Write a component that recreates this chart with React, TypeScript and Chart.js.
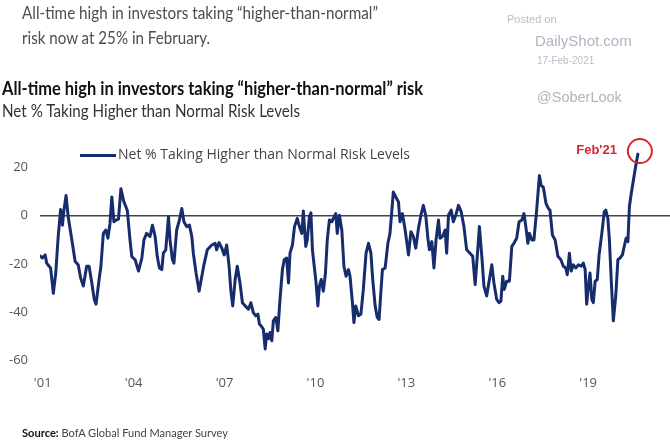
import React, { useEffect, useLayoutEffect, useRef } from "react";
import { Chart, registerables } from "chart.js";
Chart.register(...registerables);

// ---- Data (decimal-year positions of the survey readings, net %) ----
const dates: number[] = [
  2000.91, 2000.99, 2001.08, 2001.13, 2001.21, 2001.26, 2001.35, 2001.43, 2001.51, 2001.59,
  2001.65, 2001.70, 2001.77, 2001.84, 2001.96, 2002.07, 2002.17, 2002.25, 2002.34, 2002.45,
  2002.53, 2002.62, 2002.70, 2002.76, 2002.86, 2002.92, 2003.00, 2003.08, 2003.15, 2003.22,
  2003.28, 2003.35, 2003.42, 2003.50, 2003.58, 2003.67, 2003.79, 2003.88, 2003.94, 2004.05,
  2004.16, 2004.27, 2004.34, 2004.43, 2004.54, 2004.62, 2004.71, 2004.78, 2004.85, 2004.93,
  2004.98, 2005.06, 2005.15, 2005.20, 2005.28, 2005.33, 2005.42, 2005.51, 2005.59, 2005.66,
  2005.75, 2005.84, 2005.92, 2005.97, 2006.06, 2006.16, 2006.25, 2006.32, 2006.43, 2006.58,
  2006.69, 2006.74, 2006.82, 2006.91, 2006.99, 2007.07, 2007.15, 2007.21, 2007.27, 2007.35,
  2007.42, 2007.51, 2007.59, 2007.68, 2007.79, 2007.87, 2007.95, 2008.03, 2008.10, 2008.15,
  2008.20, 2008.28, 2008.34, 2008.39, 2008.45, 2008.50, 2008.56, 2008.61, 2008.69, 2008.76,
  2008.83, 2008.91, 2008.97, 2009.05, 2009.11, 2009.16, 2009.24, 2009.31, 2009.40, 2009.47,
  2009.55, 2009.60, 2009.68, 2009.73, 2009.80, 2009.85, 2009.90, 2009.96, 2010.02, 2010.08,
  2010.13, 2010.19, 2010.26, 2010.33, 2010.39, 2010.46, 2010.54, 2010.59, 2010.67, 2010.72,
  2010.79, 2010.87, 2010.94, 2011.01, 2011.09, 2011.14, 2011.22, 2011.27, 2011.33, 2011.42,
  2011.50, 2011.58, 2011.67, 2011.75, 2011.83, 2011.89, 2011.97, 2012.04, 2012.10, 2012.15,
  2012.21, 2012.30, 2012.39, 2012.46, 2012.57, 2012.65, 2012.74, 2012.79, 2012.87, 2012.96,
  2013.07, 2013.15, 2013.23, 2013.31, 2013.40, 2013.48, 2013.56, 2013.64, 2013.71, 2013.76,
  2013.84, 2013.91, 2013.98, 2014.06, 2014.11, 2014.19, 2014.28, 2014.33, 2014.39, 2014.48,
  2014.55, 2014.63, 2014.72, 2014.81, 2014.90, 2014.99, 2015.10, 2015.19, 2015.27, 2015.34,
  2015.41, 2015.49, 2015.56, 2015.65, 2015.74, 2015.82, 2015.89, 2015.98, 2016.06, 2016.12,
  2016.18, 2016.23, 2016.31, 2016.40, 2016.48, 2016.55, 2016.64, 2016.72, 2016.81, 2016.88,
  2016.95, 2017.01, 2017.06, 2017.14, 2017.21, 2017.30, 2017.39, 2017.45, 2017.52, 2017.61,
  2017.69, 2017.74, 2017.82, 2017.91, 2018.00, 2018.10, 2018.18, 2018.26, 2018.31, 2018.38,
  2018.44, 2018.51, 2018.59, 2018.68, 2018.77, 2018.84, 2018.90, 2018.95, 2019.01, 2019.06,
  2019.12, 2019.17, 2019.23, 2019.30, 2019.36, 2019.45, 2019.53, 2019.58, 2019.65, 2019.70,
  2019.76, 2019.83, 2019.91, 2019.98, 2020.05, 2020.13, 2020.20, 2020.25, 2020.31, 2020.36,
  2020.42, 2020.50, 2020.57, 2020.64,
];

const netRiskValues: number[] = [
  -16.7, -17.6, -16.3, -19.7, -21, -21.7, -32.2, -23.8, -8.7, 2.5,
  -4, 2.2, 8.3, -0.5, -10, -19, -20.4, -25.8, -29.2, -21,
  -21, -27.9, -34.7, -36.7, -26.5, -21, -7.4, -6, -9.4, -3.3,
  7.7, -2.6, -1.9, -1.5, 11.1, 6, 2.2, -10.1, -17, -18.3,
  -23, -17.6, -10.1, -7.4, -8.7, -4, -8.7, -17, -21.7, -22.4,
  -15.6, -14.2, -0.5, -10.1, -18.3, -19.7, -6, -1.9, 2.9, -2.6,
  -4.6, -4, -8.7, -15.6, -23.8, -31.3, -25.1, -20.4, -14.2, -12.2,
  -11.5, -14.2, -11.2, -13.5, -16.3, -12.2, -21, -31.3, -37.4, -26.5,
  -21, -27.9, -36.1, -37.4, -38.8, -36.1, -40.2, -41.5, -40.8, -44.9,
  -45.6, -47, -55.2, -49, -51, -48.4, -51.8, -43.6, -42.2, -47.7,
  -34.7, -22.4, -18.3, -17.6, -27.9, -15.6, -12.2, -4.5, -1.2, -4.6,
  -7.4, 1.9, -12.8, -10.1, -0.5, 1.1, -14.2, -21, -27.9, -37.4,
  -29.2, -26.5, -31.3, -23.8, -10.1, -1.9, -2.6, -1.2, 0.8, -7.4,
  0.1, -6, -21, -25.1, -22.4, -25.1, -36.1, -44.3, -37.4, -41.5,
  -40.8, -30.6, -15.6, -11.5, -15.6, -26.5, -37.4, -42.2, -43, -33.3,
  -22.4, -21.7, -11.5, -7.4, 9.7, 7.7, 5.6, -2.6, 0.8, -6,
  -16.3, -6.7, -8.7, -13.5, -5.3, 0.1, 4.2, 0, -9.4, -14.2,
  -10.8, -21.7, -10.1, -1.9, -9.4, -8.7, -6, -15.6, 0.1, 2.2,
  -2.6, 0.1, 4.2, 1.5, -4.6, -14.2, -15.6, -16.9, -28.6, -16.9,
  -4.6, -16.9, -29.2, -33.3, -26.5, -20.4, -27.9, -34.7, -36.1, -35.4,
  -25.1, -30.6, -27.2, -27.2, -12.8, -11.5, -9.4, -2.6, -1.9, 0.8,
  -5.3, -11.5, -7.4, -10.1, -10.1, 2.2, 16.5, 12.4, 11.7, 4.9,
  2.9, 2.2, -8.1, -10.1, -16.9, -18.3, -21, -21.7, -24.5, -15.6,
  -23, -20.4, -21.7, -20.4, -21, -19.7, -22.4, -36.7, -29.2, -23.8,
  -34.7, -36.1, -27.2, -26.5, -16.3, -7.4, 1.5, 2.2, -1.2, -10.1,
  -26.5, -43.6, -33.3, -18.3, -17.6, -16.3, -12.2, -9.4, -10.8, 3.6,
  9, 15.2, 20.6, 25.4,
];

const xTickYears: number[] = [2001, 2004, 2007, 2010, 2013, 2016, 2019];
const yTickValues: number[] = [-60, -40, -20, 0, 20];
const seriesLabel = "Net % Taking Higher than Normal Risk Levels";
const annotationLabel = "Feb'21";

const headline1 = "All-time high in investors taking \u201chigher-than-normal\u201d";
const headline2 = "risk now at 25% in February.";
const chartTitle = "All-time high in investors taking \u201chigher-than-normal\u201d risk";
const chartSubtitle = "Net % Taking Higher than Normal Risk Levels";
const sourceText = "BofA Global Fund Manager Survey";

const NAVY = "#162c6d";
const RED = "#d9252b";
const COND = 'Lato, "Noto Sans", sans-serif';
const SANS = '"Open Sans", "Noto Sans", sans-serif';
const WM = '"Liberation Sans", Arial, sans-serif';

const annotationPlugin = {
  id: "febAnnotation",
  afterDatasetsDraw(chart: any) {
    const meta = chart.getDatasetMeta(0);
    const pts = meta.data;
    if (!pts || !pts.length) return;
    const last = pts[pts.length - 1];
    const ctx = chart.ctx;
    ctx.save();
    ctx.strokeStyle = RED;
    ctx.lineWidth = 2;
    ctx.beginPath();
    ctx.arc(last.x + 2, last.y - 3, 12, 0, Math.PI * 2);
    ctx.stroke();
    ctx.fillStyle = RED;
    ctx.font = 'bold 13px "Liberation Sans", Arial, sans-serif';
    ctx.textAlign = "right";
    ctx.textBaseline = "middle";
    ctx.fillText(annotationLabel, last.x - 21, last.y - 4);
    ctx.restore();
  },
};

function LineChart() {
  const ref = useRef<HTMLCanvasElement | null>(null);
  useEffect(() => {
    if (!ref.current) return;
    const chart = new Chart(ref.current, {
      type: "line",
      data: {
        datasets: [
          {
            label: seriesLabel,
            data: dates.map((d, i) => ({ x: d, y: netRiskValues[i] })),
            borderColor: NAVY,
            backgroundColor: NAVY,
            borderWidth: 3,
            pointRadius: 0,
            tension: 0,
            borderJoinStyle: "round",
            borderCapStyle: "round",
          },
        ],
      },
      options: {
        animation: false,
        responsive: false,
        maintainAspectRatio: false,
        layout: { padding: { top: 143, left: 0, right: 0, bottom: 0 } },
        plugins: {
          legend: { display: false },
          title: { display: false },
          tooltip: { enabled: false },
        },
        scales: {
          x: {
            type: "linear",
            min: 2000.91,
            max: 2021.7,
            grid: { display: false, drawTicks: false },
            border: { display: false },
            afterBuildTicks: (scale: any) => {
              scale.ticks = xTickYears.map((v) => ({ value: v }));
            },
            afterFit: (scale: any) => {
              scale.height = 86.5;
            },
            ticks: {
              padding: 15,
              color: "#555",
              font: { family: SANS, size: 13 },
              maxRotation: 0,
              autoSkip: false,
              callback: (v: any) => "'" + String(v).slice(2),
            },
          },
          y: {
            min: -60,
            max: 30,
            afterBuildTicks: (scale: any) => {
              scale.ticks = yTickValues.map((v) => ({ value: v }));
            },
            afterFit: (scale: any) => {
              scale.width = 40;
            },
            grid: {
              drawTicks: false,
              color: (c: any) => (c.tick && c.tick.value === 0 ? "#444" : "rgba(0,0,0,0)"),
              lineWidth: 1.5,
            },
            border: { display: false },
            ticks: {
              padding: 12,
              color: "#555",
              font: { family: SANS, size: 13 },
            },
          },
        },
      },
      plugins: [annotationPlugin],
    } as any);
    return () => chart.destroy();
  }, []);
  return (
    <canvas
      ref={ref}
      width={670}
      height={447}
      style={{ position: "absolute", left: 0, top: 0, width: 670, height: 447 }}
    />
  );
}

// Text squeezed horizontally to a target width (mimics the condensed source font)
function FitText(props: {
  left: number;
  top: number;
  width: number;
  style: React.CSSProperties;
  children: React.ReactNode;
}) {
  const ref = useRef<HTMLDivElement | null>(null);
  useLayoutEffect(() => {
    const el = ref.current;
    if (!el) return;
    el.style.transform = "none";
    const w = el.getBoundingClientRect().width;
    if (w > 0) el.style.transform = `scaleX(${props.width / w})`;
  }, [props.width]);
  return (
    <div
      ref={ref}
      style={{
        position: "absolute",
        left: props.left,
        top: props.top,
        whiteSpace: "nowrap",
        lineHeight: 1,
        transformOrigin: "0 0",
        ...props.style,
      }}
    >
      {props.children}
    </div>
  );
}

const abs = (left: number, top: number, extra: React.CSSProperties = {}): React.CSSProperties => ({
  position: "absolute",
  left,
  top,
  whiteSpace: "nowrap",
  lineHeight: 1,
  ...extra,
});

export default function App() {
  return (
    <div
      style={{
        position: "absolute",
        left: 0,
        top: 0,
        width: 670,
        height: 447,
        background: "#fff",
        overflow: "hidden",
      }}
    >
      <LineChart />
      <FitText left={22} top={3} width={356} style={{ fontFamily: COND, fontSize: 18, color: "#4d4d4d" }}>
        {headline1}
      </FitText>
      <FitText left={22} top={28} width={188} style={{ fontFamily: COND, fontSize: 18, color: "#4d4d4d" }}>
        {headline2}
      </FitText>

      <div style={abs(507, 14, { fontFamily: WM, fontSize: 11, color: "#b9bdc9" })}>Posted on</div>
      <div style={abs(535, 33, { fontFamily: WM, fontSize: 15, color: "#b0b4c0" })}>DailyShot.com</div>
      <div style={abs(537, 56, { fontFamily: WM, fontSize: 10, color: "#b9bdc9" })}>17-Feb-2021</div>
      <div style={abs(537, 90, { fontFamily: WM, fontSize: 14.5, color: "#b0b4c0" })}>@SoberLook</div>

      <FitText left={2} top={79} width={421} style={{ fontFamily: COND, fontSize: 18, fontWeight: 700, color: "#111" }}>
        {chartTitle}
      </FitText>
      <FitText left={2} top={102} width={298} style={{ fontFamily: COND, fontSize: 17, color: "#333" }}>
        {chartSubtitle}
      </FitText>

      <div style={abs(80, 154, { width: 36, height: 3, background: NAVY })} />
      <div style={abs(118, 147, { fontFamily: SANS, fontSize: 14, color: "#444" })}>{seriesLabel}</div>

      <FitText left={22} top={427} width={206} style={{ fontFamily: COND, fontSize: 11, color: "#444" }}>
        <span style={{ fontWeight: 700, color: "#111" }}>Source:</span> {sourceText}
      </FitText>
    </div>
  );
}
